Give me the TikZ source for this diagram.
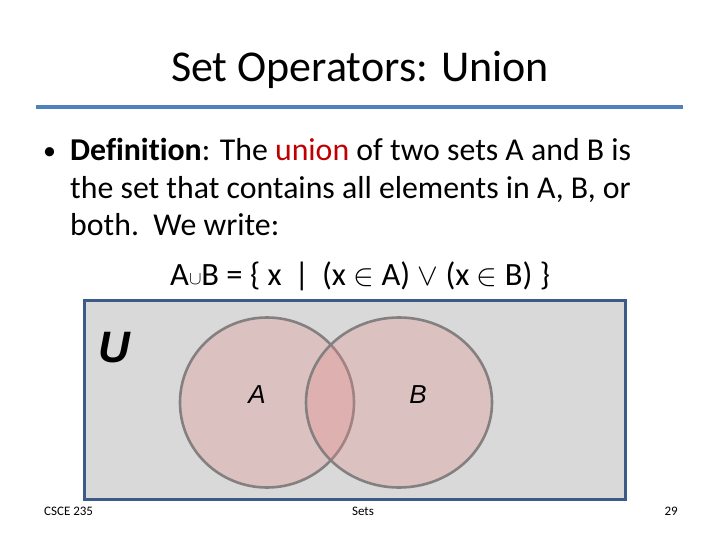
\documentclass[tikz,border=0pt]{standalone}
\usepackage{fontspec}
\setmainfont{Carlito}[Ligatures=NoCommon]
\newfontfamily\arialf{Liberation Sans}
\definecolor{titleblue}{RGB}{79,129,189}
\definecolor{rectblue}{RGB}{62,90,135}
\definecolor{ubg}{RGB}{217,217,217}
\definecolor{unionred}{RGB}{192,0,0}
\definecolor{setpink}{RGB}{230,140,140}
\definecolor{setedge}{RGB}{132,128,128}
\newcommand{\bigsym}[1]{\raisebox{-0.5pt}{\scalebox{1.25}{$#1$}}}
\tikzset{
  bodytext/.style={anchor=base west, inner sep=0pt, font=\fontsize{31.8}{36}\selectfont},
  footer/.style={inner sep=0pt, font=\fontsize{13}{15}\selectfont},
  setcircle/.style={fill=setpink, fill opacity=0.3, draw=setedge, draw opacity=1, line width=2.6pt},
  setlabel/.style={inner sep=0pt, font=\arialf\itshape\fontsize{26}{30}\selectfont}
}
\begin{document}
\begin{tikzpicture}[x=1pt,y=-1pt]
\useasboundingbox (0,0) rectangle (720,540);
% title
\node[inner sep=0pt, anchor=base, font=\fontsize{44}{52}\selectfont] (title) at (360,82) {Set Operators: Union};
\draw[titleblue, line width=3.5pt] (36,107) coordinate (tl) -- (683,107) coordinate (tr);
% bullet text
\node[bodytext, font=\fontsize{26}{30}\selectfont] (bullet) at (43,160) {\textbullet};
\node[bodytext] (l1) at (70,161) {\textbf{Definition}: The \textcolor{unionred}{union} of two sets A and B is};
\node[bodytext] (l2) at (70,199) {the set that contains all elements in A, B, or};
\node[bodytext] (l3) at (70,236) {both.\ \ We write:};
\node[bodytext, font=\fontsize{32.5}{36}\selectfont] (l4) at (170,285) {A\raisebox{1pt}{\scalebox{0.75}{$\cup$}}B = \{ x \,|\, (x \bigsym{\in} A) \bigsym{\vee} (x \bigsym{\in} B) \}};
% universe
\draw[fill=ubg, draw=rectblue, line width=3pt] (84,300) rectangle (625,499);
\node[inner sep=0pt, font=\arialf\bfseries\itshape\fontsize{44}{50}\selectfont] (U) at (114,348) {U};
\path[setcircle] (267,402.5) ellipse [x radius=87, y radius=85];
\path[setcircle] (399,402.5) ellipse [x radius=93, y radius=85];
\node[setlabel] (A) at (257,395) {A};
\node[setlabel] (B) at (418,395) {B};
% footer
\node[footer, anchor=base west] (f1) at (44,515) {CSCE 235};
\node[footer, anchor=base] (f2) at (363,515) {Sets};
\node[footer, anchor=base east] (f3) at (678,515) {29};
\end{tikzpicture}
\end{document}
